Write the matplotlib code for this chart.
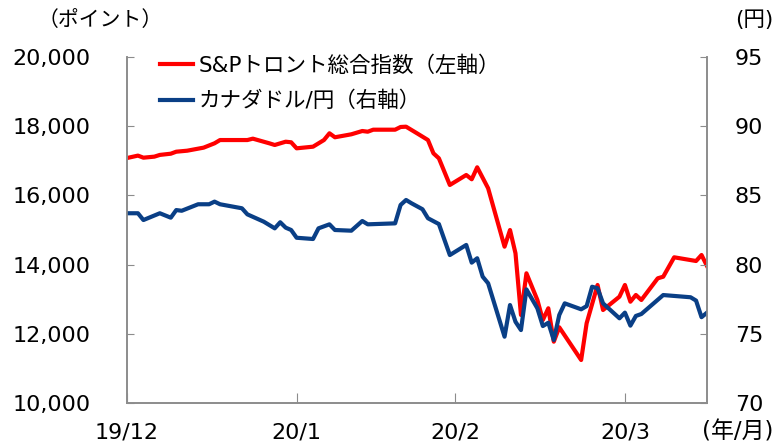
import pandas as pd
import matplotlib
matplotlib.use("Agg")
import matplotlib.pyplot as plt

plt.rcParams['font.family'] = ['DejaVu Sans', 'Noto Sans CJK JP']

# S&P/TSX composite (points, left axis)
red_dates = ["2019-12-31", "2020-01-02", "2020-01-03", "2020-01-05", "2020-01-06",
             "2020-01-08", "2020-01-09", "2020-01-11", "2020-01-14", "2020-01-16",
             "2020-01-17", "2020-01-22", "2020-01-23", "2020-01-26", "2020-01-27",
             "2020-01-29", "2020-01-30", "2020-01-31", "2020-02-03", "2020-02-05",
             "2020-02-06", "2020-02-07", "2020-02-10", "2020-02-12", "2020-02-13",
             "2020-02-14", "2020-02-18", "2020-02-19", "2020-02-20", "2020-02-22",
             "2020-02-24", "2020-02-25", "2020-02-26", "2020-02-28", "2020-03-02",
             "2020-03-03", "2020-03-04", "2020-03-06", "2020-03-09", "2020-03-10",
             "2020-03-11", "2020-03-12", "2020-03-13", "2020-03-15", "2020-03-16",
             "2020-03-17", "2020-03-18", "2020-03-19", "2020-03-23", "2020-03-24",
             "2020-03-26", "2020-03-27", "2020-03-30", "2020-03-31", "2020-04-01",
             "2020-04-02", "2020-04-03", "2020-04-06", "2020-04-07", "2020-04-09",
             "2020-04-13", "2020-04-14", "2020-04-15"]
red_values = [17080, 17150, 17090, 17120, 17170, 17205, 17263, 17292, 17380, 17506,
              17600, 17600, 17640, 17506, 17457, 17552, 17535, 17361, 17408, 17601,
              17795, 17680, 17766, 17861, 17841, 17899, 17899, 17977, 17986, 17795,
              17601, 17217, 17072, 16301, 16590, 16466, 16812, 16206, 14518, 15000,
              14327, 12544, 13749, 12977, 12399, 12738, 11772, 12188, 11243, 12304,
              13411, 12688, 13073, 13411, 12928, 13122, 12977, 13604, 13650, 14211,
              14104, 14278, 13960]

# CAD/JPY (yen, right axis)
blue_dates = ["2019-12-31", "2020-01-02", "2020-01-03", "2020-01-06", "2020-01-08",
              "2020-01-09", "2020-01-10", "2020-01-13", "2020-01-15", "2020-01-16",
              "2020-01-17", "2020-01-21", "2020-01-22", "2020-01-25", "2020-01-27",
              "2020-01-28", "2020-01-29", "2020-01-30", "2020-01-31", "2020-02-03",
              "2020-02-04", "2020-02-06", "2020-02-07", "2020-02-10", "2020-02-12",
              "2020-02-13", "2020-02-18", "2020-02-19", "2020-02-20", "2020-02-21",
              "2020-02-23", "2020-02-24", "2020-02-26", "2020-02-28", "2020-03-02",
              "2020-03-03", "2020-03-04", "2020-03-05", "2020-03-06", "2020-03-09",
              "2020-03-10", "2020-03-11", "2020-03-12", "2020-03-13", "2020-03-15",
              "2020-03-16", "2020-03-17", "2020-03-18", "2020-03-19", "2020-03-20",
              "2020-03-23", "2020-03-24", "2020-03-25", "2020-03-26", "2020-03-27",
              "2020-03-30", "2020-03-31", "2020-04-01", "2020-04-02", "2020-04-03",
              "2020-04-07", "2020-04-12", "2020-04-13", "2020-04-14", "2020-04-15"]
blue_values = [83.71, 83.71, 83.22, 83.71, 83.39, 83.94, 83.89, 84.36, 84.36, 84.55,
               84.36, 84.07, 83.63, 83.10, 82.62, 83.06, 82.67, 82.50, 81.94, 81.85,
               82.62, 82.91, 82.50, 82.45, 83.15, 82.91, 82.98, 84.31, 84.67, 84.43,
               84.00, 83.35, 82.93, 80.69, 81.42, 80.14, 80.46, 79.13, 78.65, 74.79,
               77.08, 75.87, 75.27, 78.21, 76.84, 75.56, 75.80, 74.55, 76.36, 77.20,
               76.77, 77.00, 78.40, 78.29, 77.20, 76.12, 76.53, 75.59, 76.29, 76.43,
               77.80, 77.64, 77.40, 76.20, 76.53]

tick_dates = ["2019-12-31", "2020-01-31", "2020-02-29", "2020-03-31"]
tick_labels = ["19/12", "20/1", "20/2", "20/3"]
left_ticks = [10000, 12000, 14000, 16000, 18000, 20000]
right_ticks = [70, 75, 80, 85, 90, 95]

RED = "#ff0000"
BLUE = "#0a3f86"
GRAY = "#8c8c8c"
FS = 16

fig = plt.figure(figsize=(7.75, 4.47), dpi=100)
ax = fig.add_axes([127/775, 1 - 403/447, 580/775, 346/447])
ax2 = ax.twinx()

l1, = ax.plot(pd.to_datetime(red_dates), red_values, color=RED, lw=3,
              solid_joinstyle="round", label="S&Pトロント総合指数（左軸）")
l2, = ax2.plot(pd.to_datetime(blue_dates), blue_values, color=BLUE, lw=3,
               solid_joinstyle="round", label="カナダドル/円（右軸）")

ax.set_xlim(pd.Timestamp("2019-12-31"), pd.Timestamp("2020-04-15"))
ax.set_ylim(10000, 20000)
ax2.set_ylim(70, 95)

ax.set_xticks(pd.to_datetime(tick_dates))
ax.set_xticklabels(tick_labels)
ax.set_yticks(left_ticks)
ax.set_yticklabels([f"{v:,}" for v in left_ticks])
ax2.set_yticks(right_ticks)

for a in (ax, ax2):
    for s in a.spines.values():
        s.set_color(GRAY)
        s.set_linewidth(1.2)
    a.spines["top"].set_visible(False)

ax.tick_params(axis="x", direction="in", length=7, color=GRAY, labelsize=FS, pad=14)
ax.tick_params(axis="y", direction="in", length=5, color=GRAY, labelsize=FS, pad=26)
ax2.tick_params(axis="y", direction="in", length=5, color=GRAY, labelsize=FS, pad=20)

fig.text(38/775, 1 - 20/447, "（ポイント）", fontsize=15, va="center", ha="left")
fig.text(773/775, 1 - 20/447, "(円)", fontsize=15.5, va="center", ha="right")
fig.text(773/775, 1 - 432/447, "(年/月)", fontsize=16.5, va="center", ha="right")

fig.legend(handles=[l1, l2], loc="upper left", bbox_to_anchor=(160/775, 1 - 55/447),
           frameon=False, fontsize=15.5, handlelength=1.55, handletextpad=0.25,
           labelspacing=0.7, borderaxespad=0, borderpad=0)

fig.savefig("out.png", dpi=100)
